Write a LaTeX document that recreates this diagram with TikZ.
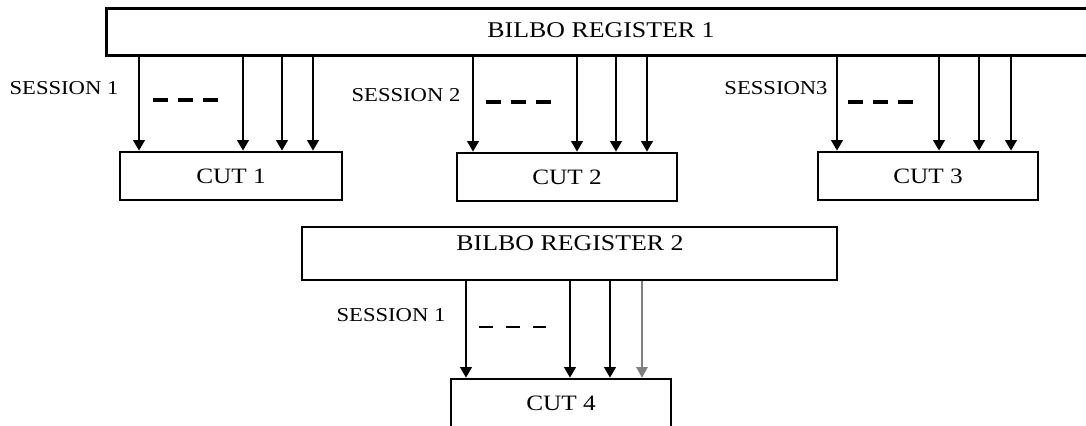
\documentclass[tikz,border=0pt]{standalone}
\usepackage{fontspec}
\setmainfont{Liberation Serif}[FakeStretch=1.15]
\usetikzlibrary{arrows.meta}

\tikzset{
  regbox/.style={draw, line width=1.5pt, minimum height=0.88cm, inner sep=0pt},
  regtext/.style={font=\fontsize{12.8}{14}\selectfont, inner sep=0pt},
  cutbox/.style={draw, line width=1.5pt, minimum width=4.4cm, minimum height=0.96cm,
    inner sep=0pt, font=\fontsize{12.5}{14}\selectfont},
  sesslabel/.style={font=\fontsize{11.2}{13}\selectfont, inner sep=0pt},
  sig/.style={line width=1.4pt, -{Triangle[length=6pt,width=6.5pt]}},
  gap/.style={line width=2.3pt, dash pattern=on 0.3cm off 0.2cm}
}

\begin{document}
\begin{tikzpicture}[x=0.02cm, y=-0.02cm]
    \useasboundingbox (0,0) rectangle (1086,426);
    \clip (0,0) rectangle (1086,426);

    % registers (register 1 runs off the right edge)
    \node (reg1) [regbox, draw=none, minimum width=20.4cm] at (618,32) {};
    \draw[line width=1.5pt] (reg1.north east) -- (reg1.north west) -- (reg1.south west) -- (reg1.south east);
    \node (reg1txt) [regtext] at (601,30) {BILBO REGISTER 1};
    \node (reg2) [regbox, minimum width=10.7cm, minimum height=1.06cm] at (569.5,253.5) {};
    \node (reg2txt) [regtext] at (570,243) {BILBO REGISTER 2};

    % circuits under test
    \node (cut1) [cutbox, minimum width=4.44cm] at (231,176) {CUT 1};
    \node (cut2) [cutbox] at (567,177) {CUT 2};
    \node (cut3) [cutbox] at (928,176) {CUT 3};
    \node (cut4) [cutbox] at (561,403) {CUT 4};

    % session labels
    \node (s1) [sesslabel] at (64,88) {SESSION 1};
    \node (s2) [sesslabel] at (406,95) {SESSION 2};
    \node (s3) [sesslabel] at (776,88) {SESSION3};
    \node (s4) [sesslabel] at (391,315) {SESSION 1};

    % session 1
    \draw[sig] (reg1.south -| 139,0) -- (cut1.north -| 139,0);
    \draw[sig] (reg1.south -| 243,0) -- (cut1.north -| 243,0);
    \draw[sig] (reg1.south -| 282,0) -- (cut1.north -| 282,0);
    \draw[sig] (reg1.south -| 313,0) -- (cut1.north -| 313,0);
    \draw[gap] (153,100) -- (218,100);

    % session 2
    \draw[sig] (reg1.south -| 473,0) -- (cut2.north -| 473,0);
    \draw[sig] (reg1.south -| 577,0) -- (cut2.north -| 577,0);
    \draw[sig] (reg1.south -| 616,0) -- (cut2.north -| 616,0);
    \draw[sig] (reg1.south -| 647,0) -- (cut2.north -| 647,0);
    \draw[gap] (486,102) -- (551,102);

    % session 3
    \draw[sig] (reg1.south -| 837,0) -- (cut3.north -| 837,0);
    \draw[sig] (reg1.south -| 939,0) -- (cut3.north -| 939,0);
    \draw[sig] (reg1.south -| 979,0) -- (cut3.north -| 979,0);
    \draw[sig] (reg1.south -| 1011,0) -- (cut3.north -| 1011,0);
    \draw[gap] (848,102) -- (913,102);

    % register 2 session
    \draw[sig] (reg2.south -| 466,0) -- (cut4.north -| 466,0);
    \draw[sig] (reg2.south -| 570,0) -- (cut4.north -| 570,0);
    \draw[sig] (reg2.south -| 610,0) -- (cut4.north -| 610,0);
    \draw[sig, line width=0.7pt, gray] (reg2.south -| 642,0) -- (cut4.north -| 642,0);
    \draw[gap, line width=1.4pt, dash pattern=on 0.28cm off 0.26cm] (479,327) -- (546,327);
\end{tikzpicture}
\end{document}
